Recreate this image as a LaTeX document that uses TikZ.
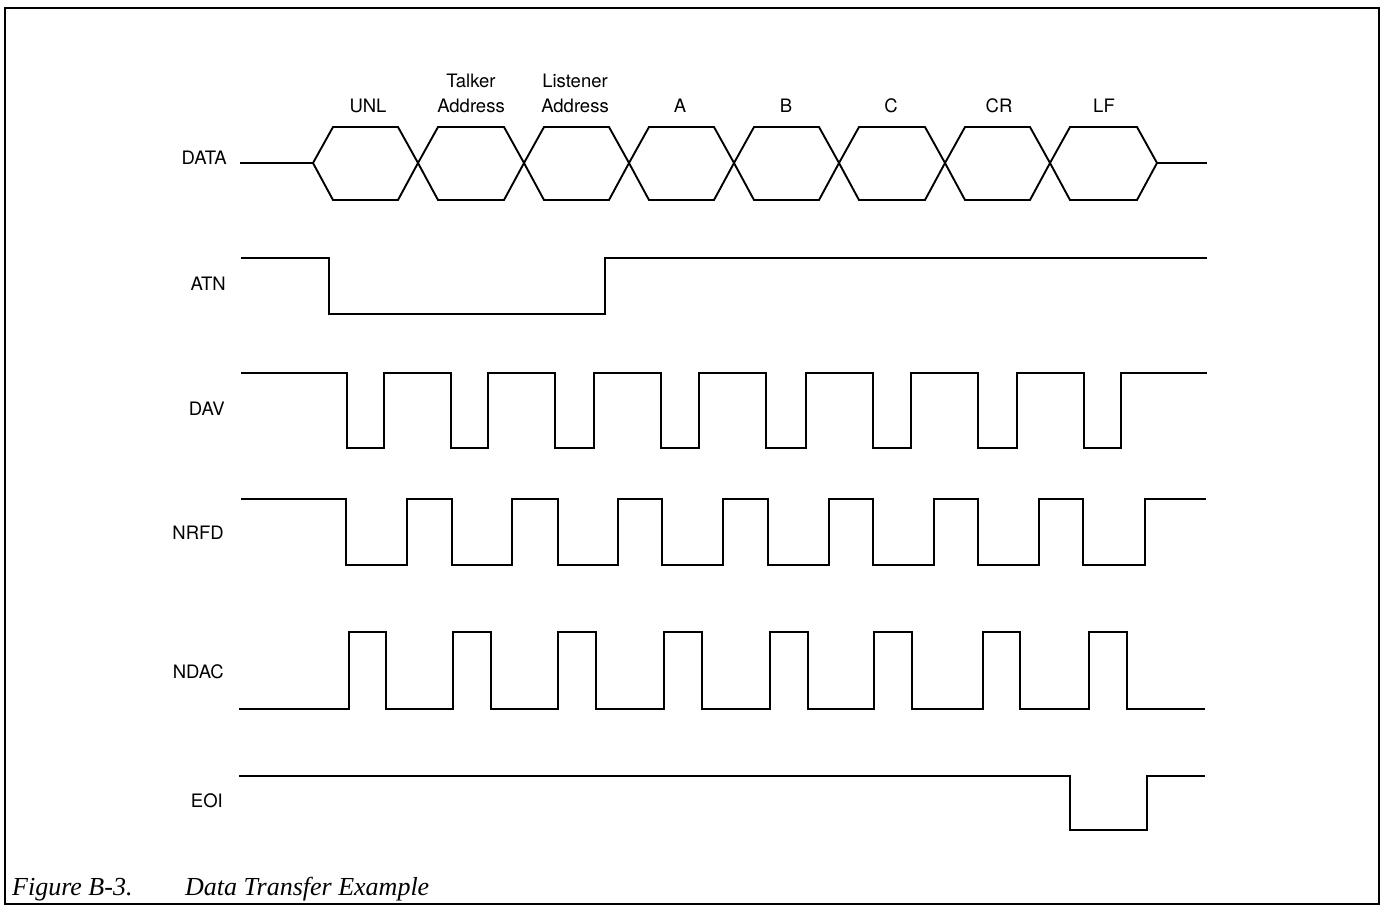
\documentclass[tikz,border=0pt]{standalone}
\usepackage{fontspec}
\setsansfont{TeX Gyre Heros}
\newfontfamily\captfont{Liberation Serif}
\begin{document}
\begin{tikzpicture}[x=1pt,y=-1pt,
  wave/.style={line width=1.9pt, line join=miter},
  frame/.style={line width=2pt},
  sig/.style={font=\sffamily\fontsize{18.5}{20}\selectfont, anchor=east, inner sep=0pt},
  bus/.style={font=\sffamily\fontsize{18.5}{20}\selectfont, anchor=base, inner sep=0pt},
  capt/.style={font=\captfont\itshape\fontsize{26}{28}\selectfont, anchor=base west, inner sep=0pt}]
\useasboundingbox (0,0) rectangle (1382,907);
\draw[frame] (5,8) rectangle (1379,904);

% signal names
\node[sig] (data) at (227,158) {DATA};
\node[sig] (atn)  at (226,284) {ATN};
\node[sig] (dav)  at (225,409) {DAV};
\node[sig] (nrfd) at (224,533) {NRFD};
\node[sig] (ndac) at (224,672) {NDAC};
\node[sig] (eoi)  at (223,801) {EOI};

% bus byte labels
\node[bus] (unl) at (368,112) {UNL};
\node[bus] (talk1) at (471,88) {Talker};
\node[bus] (talk2) at (471,112) {Address};
\node[bus] (list1) at (575,88) {Listener};
\node[bus] (list2) at (575,112) {Address};
\node[bus] (la) at (680,112) {A};
\node[bus] (lb) at (786,112) {B};
\node[bus] (lc) at (891,112) {C};
\node[bus] (lcr) at (999,112) {CR};
\node[bus] (llf) at (1104,112) {LF};

% DATA bus
\draw[wave] (240,163) -- (313,163);
\draw[wave] (1157,163) -- (1207,163);
\foreach \a/\b in {313/418,418/524,524/629,629/734,734/839,839/945,945/1050,1050/1157}{
  \draw[wave] (\a,163) -- (\a+20,127) -- (\b-20,127) -- (\b,163) -- (\b-20,200) -- (\a+20,200) -- cycle;
}

% ATN
\draw[wave] (241,258) -| (329,314) -| (605,258) -- (1207,258);

% DAV
\draw[wave] (241,373) -| (347,448) -| (384,373) -| (451,448) -| (488,373)
  -| (555,448) -| (594,373) -| (661,448) -| (699,373) -| (766,448) -| (806,373)
  -| (873,448) -| (911,373) -| (978,448) -| (1017,373) -| (1084,448) -| (1121,373) -- (1207,373);

% NRFD
\draw[wave] (241,499) -| (346,565) -| (407,499) -| (452,565) -| (512,499)
  -| (558,565) -| (618,499) -| (662,565) -| (723,499) -| (768,565) -| (829,499)
  -| (873,565) -| (934,499) -| (978,565) -| (1039,499) -| (1083,565) -| (1145,499) -- (1206,499);

% NDAC
\draw[wave] (239,709) -| (349,632) -| (386,709) -| (453,632) -| (491,709)
  -| (558,632) -| (596,709) -| (664,632) -| (702,709) -| (770,632) -| (808,709)
  -| (874,632) -| (912,709) -| (983,632) -| (1020,709) -| (1089,632) -| (1127,709) -- (1205,709);

% EOI
\draw[wave] (239,776) -| (1070,830) -| (1147,776) -- (1205,776);

% caption
\node[capt] (fig) at (12,895) {Figure B-3.};
\node[capt] (title) at (185,895) {Data Transfer Example};
\end{tikzpicture}
\end{document}
